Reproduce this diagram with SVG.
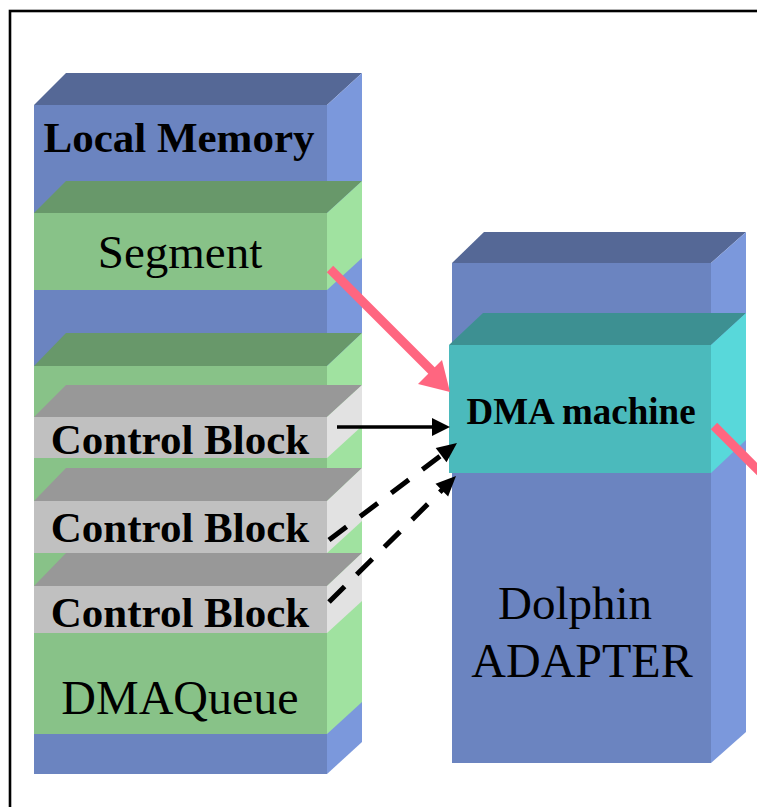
<svg xmlns="http://www.w3.org/2000/svg" width="757" height="807" viewBox="0 0 757 807">
<style>
.bf{fill:#6B84C0}.bt{fill:#556896}.bs{fill:#7B98DC}
.gf{fill:#88C288}.gt{fill:#68986A}.gs{fill:#A0E2A0}
.cf{fill:#C0C0C0}.ct{fill:#989898}.cs{fill:#E2E2E2}
.tf{fill:#4BBABC}.tt{fill:#3D9092}.ts{fill:#58D8DA}
.t{font-family:"Liberation Serif","Times New Roman",serif;fill:#000;text-anchor:middle}
.b{font-weight:bold}
.pink{stroke:#FF6680;stroke-width:9;fill:none}
.blk{stroke:#000;stroke-width:3.5;fill:none}
.dash{stroke-width:5;stroke-dasharray:22 17}
</style>
<rect x="0" y="0" width="757" height="807" fill="#fff"/>
<rect x="10" y="11" width="800" height="850" fill="none" stroke="#000" stroke-width="2.6"/>

<g id="local-memory">
  <polygon class="bt" points="34,105 66,73 362,73 327,105"/>
  <polygon class="bs" points="327,105 362,73 362,742 327,774"/>
  <rect class="bf" x="34" y="105" width="293" height="669"/>
  <text class="t b" x="179" y="152" font-size="43">Local Memory</text>
</g>

<g id="segment">
  <polygon class="gt" points="34,213 66,181 362,181 327,213"/>
  <polygon class="gs" points="327,213 362,181 362,258 327,290"/>
  <rect class="gf" x="34" y="213" width="293" height="77"/>
  <text class="t" x="180" y="268" font-size="47">Segment</text>
</g>

<g id="dmaqueue">
  <polygon class="gt" points="34,366 66,333 362,333 327,366"/>
  <polygon class="gs" points="327,366 362,333 362,702 327,734"/>
  <rect class="gf" x="34" y="366" width="293" height="368"/>
  <text class="t" x="180" y="714" font-size="48">DMAQueue</text>
</g>

<g id="control-block-1">
  <polygon class="ct" points="34,417 66,385 362,385 327,417"/>
  <polygon class="cs" points="327,417 362,385 362,426 327,458"/>
  <rect class="cf" x="34" y="417" width="293" height="41"/>
  <text class="t b" x="180" y="454" font-size="43">Control Block</text>
</g>

<g id="control-block-2">
  <polygon class="ct" points="34,501 66,468 362,468 327,501"/>
  <polygon class="cs" points="327,501 362,468 362,521 327,553"/>
  <rect class="cf" x="34" y="501" width="293" height="52"/>
  <text class="t b" x="180" y="542" font-size="43">Control Block</text>
</g>

<g id="control-block-3">
  <polygon class="ct" points="34,586 66,553 362,553 327,586"/>
  <polygon class="cs" points="327,586 362,553 362,601 327,633"/>
  <rect class="cf" x="34" y="586" width="293" height="47"/>
  <text class="t b" x="180" y="627" font-size="43">Control Block</text>
</g>

<g id="dolphin-adapter">
  <polygon class="bt" points="452,263 484,232 746,232 711,263"/>
  <polygon class="bs" points="711,263 746,232 746,732 711,763"/>
  <rect class="bf" x="452" y="263" width="259" height="500"/>
  <text class="t" x="575" y="619" font-size="47">Dolphin</text>
  <text class="t" x="582" y="677" font-size="48">ADAPTER</text>
</g>

<g id="dma-machine">
  <polygon class="tt" points="449,345 483,313 746,313 711,345"/>
  <polygon class="ts" points="711,345 746,313 746,440 711,473"/>
  <rect class="tf" x="449" y="345" width="262" height="128"/>
  <text class="t b" x="581" y="424" font-size="37">DMA machine</text>
</g>

<g id="connectors">
  <line class="pink" x1="330" y1="269" x2="434" y2="373"/>
  <polygon fill="#FF6680" points="450,392 418,384 442,360"/>
  <line class="pink" x1="714" y1="426" x2="775" y2="487"/>
  <line class="blk" x1="337" y1="427" x2="434" y2="427"/>
  <polygon fill="#000" points="450,427 432,418 432,436"/>
  <line class="blk dash" x1="329" y1="540" x2="443" y2="454"/>
  <polygon fill="#000" points="457,443 446.5,462.3 435.7,447.9"/>
  <line class="blk dash" x1="329" y1="602" x2="443" y2="489"/>
  <polygon fill="#000" points="456,476 448.1,496.5 435.5,483.7"/>
</g>
</svg>
